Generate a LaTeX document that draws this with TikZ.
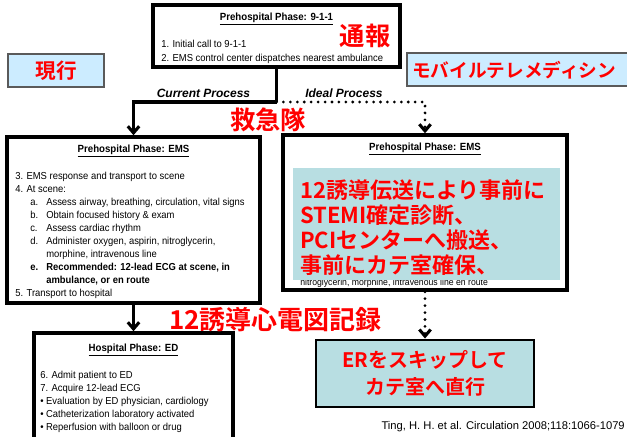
\documentclass[tikz,border=0pt]{standalone}
\usepackage{fontspec}
\setmainfont{Liberation Sans}
\newfontfamily\bodyfont{Liberation Sans}[FakeStretch=0.93]
\newfontfamily\jpb{Noto Sans CJK JP Bold}
\usetikzlibrary{arrows.meta}
\definecolor{jred}{RGB}{255,0,0}
\definecolor{skyfill}{RGB}{204,236,255}
\definecolor{tealfill}{RGB}{184,222,226}
\definecolor{boxgray}{RGB}{90,90,90}
\begin{document}
\begin{tikzpicture}[x=0.75pt,y=-0.75pt,
  phase/.style={draw=black, line width=2.6pt, fill=white, inner sep=0pt},
  tagbox/.style={draw=boxgray, line width=0.8pt, fill=skyfill, inner sep=0pt},
  tealbox/.style={fill=tealfill, inner sep=0pt},
  body/.style={font=\bodyfont\fontsize{7.6}{9.75}\selectfont, inner sep=0pt, align=left, anchor=north west},
  ptitle/.style={font=\bodyfont\fontsize{7.8}{9}\selectfont\bfseries, inner sep=0pt, anchor=base},
  jplabel/.style={text=jred, inner sep=0pt},
  proc/.style={font=\fontsize{9}{10}\selectfont\bfseries\itshape, inner sep=0pt},
  conn/.style={line width=2.3pt, -{Straight Barb[length=5pt,width=8.5pt]}},
  connplain/.style={line width=2.3pt},
  dotline/.style={line width=2.3pt, dash pattern=on 0pt off 5.2pt, line cap=round},
  dotarrow/.style={dotline, -{Straight Barb[length=5pt,width=8.5pt]}}
]
\useasboundingbox (0,0) rectangle (627,436);

% tag boxes
\node[tagbox, minimum width=72pt, minimum height=24.75pt] (tagL) at (56,70.5) {};
\node[tagbox, minimum width=174.75pt, minimum height=24.75pt] (tagR) at (523.5,69.5) {};
\node[jplabel, font=\jpb\fontsize{15.5}{16}\selectfont] (tagLt) at (tagL.center) {現行};
\node[jplabel, font=\jpb\fontsize{14}{15}\selectfont, anchor=west] (tagRt) at (412,70) {モバイルテレメディシン};

% phase boxes
\node[phase, minimum width=185.25pt, minimum height=46.5pt] (top) at (276.5,36) {};
\node[phase, minimum width=189.75pt, minimum height=124.5pt] (emsL) at (133.5,220) {};
\node[phase, minimum width=213pt, minimum height=116.25pt] (emsR) at (425,212.5) {};
\node[phase, minimum width=149.25pt, minimum height=87.75pt] (hosp) at (133.5,391.5) {};
\node[phase, line width=2.2pt, fill=tealfill, minimum width=163.5pt, minimum height=50.25pt] (erbox) at (425,373.5) {};

% connectors
\coordinate (split) at (276.5,102);
\draw[connplain] (top.south) -- (split);
\draw[conn] (split) -| (emsL.north);
\draw[dotarrow] (split) -| (emsR.north);
\draw[conn] (emsL.south) -- (hosp.north);
\draw[dotarrow] (emsR.south) -- (erbox.north);

% top box text
\node[ptitle] (topt) at (276.5,20) {\underline{Prehospital Phase: 9-1-1}};
\node[body, font=\bodyfont\fontsize{7.6}{10.1}\selectfont] (topb) at (161,40.3) {1. Initial call to 9-1-1\\2. EMS control center dispatches nearest ambulance};
\node[jplabel, font=\jpb\fontsize{19}{20}\selectfont] (tsuho) at (365,36) {通報};

% process labels
\node[proc] (curp) at (203.5,93) {Current Process};
\node[proc, anchor=west] (idlp) at (305,93) {Ideal Process};
\node[jplabel, font=\jpb\fontsize{19}{20}\selectfont] (kyu) at (268,120) {救急隊};

% left EMS text
\node[ptitle] (emsLt) at (133.5,152) {\underline{Prehospital Phase: EMS}};
\node[body] (emsLb) at (15,172.3) {3. EMS response and transport to scene\\
4. At scene:\\
\hspace*{11.25pt}\makebox[12pt][l]{a.}Assess airway, breathing, circulation, vital signs\\
\hspace*{11.25pt}\makebox[12pt][l]{b.}Obtain focused history \& exam\\
\hspace*{11.25pt}\makebox[12pt][l]{c.}Assess cardiac rhythm\\
\hspace*{11.25pt}\makebox[12pt][l]{d.}Administer oxygen, aspirin, nitroglycerin,\\
\hspace*{23.25pt}morphine, intravenous line\\
\hspace*{11.25pt}\makebox[12pt][l]{\bfseries e.}\textbf{Recommended: 12-lead ECG at scene, in}\\
\hspace*{23.25pt}\textbf{ambulance, or en route}\\
5. Transport to hospital};

% right EMS text
\node[ptitle] (emsRt) at (425,150.5) {\underline{Prehospital Phase: EMS}};
\node[inner sep=0pt, anchor=west, font=\bodyfont\fontsize{7}{8}\selectfont] (emsRhid) at (300,283.5) {nitroglycerin, morphine, intravenous line en route};
\node[tealbox, minimum width=200.25pt, minimum height=84pt] (ovl) at (426.5,224) {};
\node[jplabel, anchor=north west, align=left, font=\jpb\fontsize{16.5}{18.75}\selectfont] (ovlt) at (300,179) {12誘導伝送により事前に\\STEMI確定診断、\\PCIセンターへ搬送、\\事前にカテ室確保、};

% ECG label
\node[jplabel, anchor=west, font=\jpb\fontsize{19.5}{20}\selectfont] (ecg) at (169,320) {12誘導心電図記録};

% hospital text
\node[ptitle] (hospt) at (133.5,351) {\underline{Hospital Phase: ED}};
\node[body] (hospb) at (40,371.3) {6. Admit patient to ED\\
7. Acquire 12-lead ECG\\
\textbullet\ Evaluation by ED physician, cardiology\\
\textbullet\ Catheterization laboratory activated\\
\textbullet\ Reperfusion with balloon or drug};

% ER box text
\node[jplabel, align=center, font=\jpb\fontsize{15}{20.25}\selectfont] (ert) at (erbox.center) {ERをスキップして\\カテ室へ直行};

% citation
\node[inner sep=0pt, anchor=east, font=\fontsize{8.4}{9}\selectfont] (cite) at (625,427) {Ting, H. H. et al. Circulation 2008;118:1066-1079};
\end{tikzpicture}
\end{document}
